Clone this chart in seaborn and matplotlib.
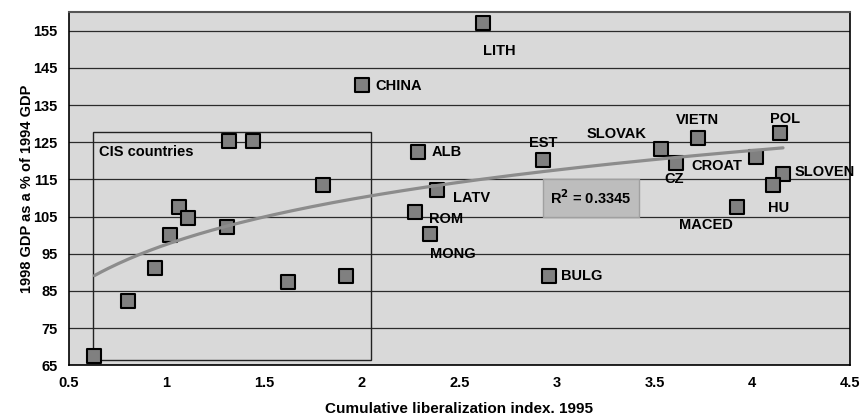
import numpy as np
import pandas as pd
import matplotlib
matplotlib.use("Agg")
import matplotlib.pyplot as plt
from matplotlib.patches import Rectangle
import seaborn as sns

# Liberalization index (1995) and 1998 GDP relative to 1994 for transition economies
cis_lib = [0.63, 0.80, 0.94, 1.02, 1.065, 1.11, 1.31, 1.32, 1.44, 1.62, 1.80, 1.92]
cis_gdp = [67.5, 82.3, 91.1, 100.0, 107.5, 104.5, 102.2, 125.2, 125.2, 87.4, 113.4, 89.1]

countries = ["LITH", "CHINA", "ALB", "LATV", "ROM", "MONG", "EST", "BULG",
             "SLOVAK", "CZ", "VIETN", "CROAT", "POL", "SLOVEN", "HU", "MACED"]
other_lib = [2.62, 2.00, 2.29, 2.385, 2.27, 2.35, 2.93, 2.96,
             3.53, 3.61, 3.72, 4.02, 4.14, 4.157, 4.107, 3.92]
other_gdp = [157.2, 140.3, 122.4, 112.1, 106.2, 100.2, 120.1, 89.1,
             123.2, 119.3, 126.2, 121.0, 127.6, 116.5, 113.4, 107.5]

# Label anchor points (left edge, vertical centre) in data units
label_x = [2.62, 2.067, 2.36, 2.468, 2.344, 2.35, 2.856, 3.02,
           3.151, 3.549, 3.607, 3.689, 4.09, 4.215, 4.078, 3.624]
label_y = [149.6, 140.2, 122.4, 109.9, 104.3, 95.0, 124.9, 88.9,
           127.3, 115.0, 130.9, 118.5, 131.3, 117.0, 107.2, 102.7]

r_squared_text = "0.3345"
x_ticks = [0.5, 1, 1.5, 2, 2.5, 3, 3.5, 4, 4.5]
x_tick_labels = ["0.5", "1", "1.5", "2", "2.5", "3", "3.5", "4", "4.5"]
y_ticks = [65, 75, 85, 95, 105, 115, 125, 135, 145, 155]

df = pd.DataFrame({
    "lib": cis_lib + other_lib,
    "gdp": cis_gdp + other_gdp,
})

sns.set_style("white")
plt.rcParams["font.family"] = ["Liberation Sans", "DejaVu Sans"]
plt.rcParams["font.weight"] = "bold"
plt.rcParams["text.color"] = "black"
plt.rcParams["axes.labelcolor"] = "black"
plt.rcParams["xtick.color"] = "black"
plt.rcParams["ytick.color"] = "black"

fig = plt.figure(figsize=(8.61, 4.17), dpi=100)
ax = fig.add_axes([0.0801, 0.124, 0.9071, 0.847])
ax.set_facecolor("#d9d9d9")

# logarithmic trend line fitted to all observations
b, a = np.polyfit(np.log(df["lib"]), df["gdp"], 1)
xs = np.linspace(df["lib"].min(), df["lib"].max(), 200)
trend = pd.DataFrame({"lib": xs, "gdp": a + b * np.log(xs)})

sns.scatterplot(data=df, x="lib", y="gdp", ax=ax, marker="s", s=115,
                color="#808080", edgecolor="black", linewidth=1.5, zorder=3)
sns.lineplot(data=trend, x="lib", y="gdp", ax=ax, color="#8c8c8c",
             linewidth=2.3, zorder=4)

ax.set_xlim(0.5, 4.5)
ax.set_ylim(65, 160)
ax.set_xticks(x_ticks)
ax.set_xticklabels(x_tick_labels)
ax.set_yticks(y_ticks)
ax.yaxis.grid(True, color="#2b2b2b", linewidth=0.9)
ax.set_axisbelow(True)

ax.tick_params(axis="both", direction="out", length=5, width=1, colors="black",
               labelsize=10.5, pad=3)
for lbl in ax.get_xticklabels() + ax.get_yticklabels():
    lbl.set_fontweight("bold")

for side in ["left", "bottom", "right"]:
    ax.spines[side].set_color("black")
    ax.spines[side].set_linewidth(1.2)
ax.spines["top"].set_color("#555555")
ax.spines["top"].set_linewidth(1.5)

ax.set_xlabel("Cumulative liberalization index. 1995", fontsize=11,
              fontweight="bold", labelpad=8)
ax.set_ylabel("1998 GDP as a % of 1994 GDP", fontsize=10.5,
              fontweight="bold")
ax.yaxis.set_label_coords(-0.045, 0.5)

# CIS group outline
ax.add_patch(Rectangle((0.622, 66.3), 2.048 - 0.622, 127.7 - 66.3,
                       fill=False, edgecolor="#222222", linewidth=1.0, zorder=2))
ax.text(0.655, 122.4, "CIS countries", fontsize=10.5, fontweight="bold",
        va="center", ha="left", zorder=5)

# R-squared box
ax.add_patch(Rectangle((2.926, 105), 3.42 - 2.926, 10, facecolor="#bdbdbd",
                       edgecolor="#a0a0a0", linewidth=1.0, zorder=2))
ax.text((2.926 + 3.42) / 2, 110, "R$^{2}$ = " + r_squared_text, fontsize=10.5,
        fontweight="bold", ha="center", va="center", zorder=5)

for name, lx, ly in zip(countries, label_x, label_y):
    ax.text(lx, ly, name, fontsize=10.5, fontweight="bold", ha="left",
            va="center", zorder=5)

fig.savefig("out.png", dpi=100, facecolor="white")
